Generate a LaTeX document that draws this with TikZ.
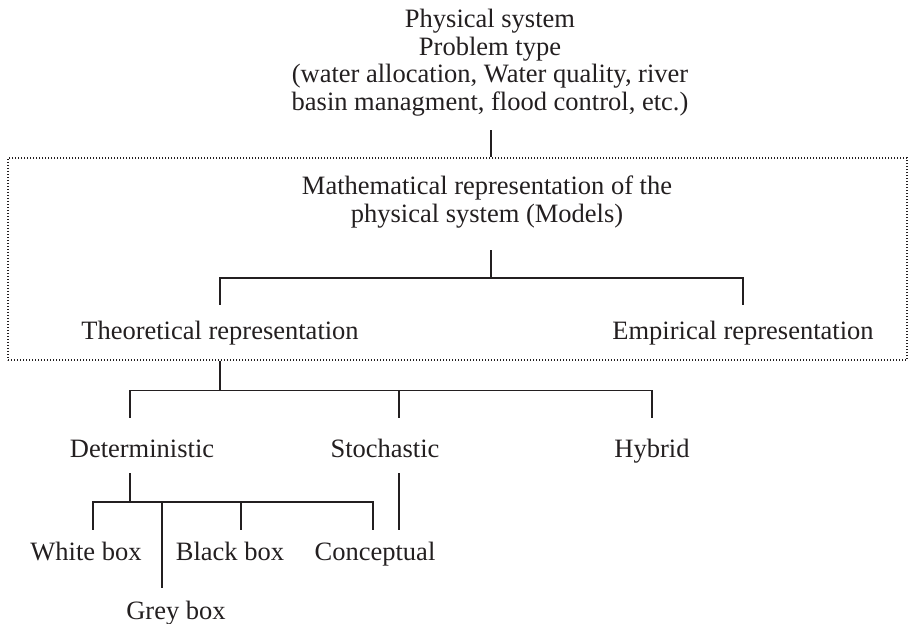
\documentclass[tikz,border=0pt]{standalone}
\usepackage{fontspec}
\setmainfont{Liberation Serif}
\usetikzlibrary{positioning}
\definecolor{ink}{HTML}{231F20}

\begin{document}
\begin{tikzpicture}[
    x=1pt,y=-1pt,
    font=\fontsize{26.5}{27.5}\selectfont,
    color=ink,
    lbl/.style={inner sep=0pt,text height=18pt,text depth=6pt},
    stack/.style={inner sep=0pt,align=center},
    link/.style={line width=1.6pt},
    frame/.style={draw,line width=1.3pt,dash pattern=on 1.3pt off 1.7pt}
]
    \useasboundingbox (0,0) rectangle (908,624);

    % problem statement and the model frame
    \node[stack,anchor=north] (phys) at (490,9) {Physical system\\Problem type\\(water allocation, Water quality, river\\basin managment, flood control, etc.)};
    \node[frame,minimum width=899pt,minimum height=202pt] (modelbox) at (457.5,259) {};
    \node[stack,anchor=north] (math) at (487,176) {Mathematical representation of the\\physical system (Models)};
    \node[lbl,anchor=base] (theo) at (220,339) {Theoretical representation};
    \node[lbl,anchor=base] (emp) at (743,339) {Empirical representation};

    % model classes
    \node[lbl,anchor=base] (det) at (142,457) {Deterministic};
    \node[lbl,anchor=base] (stoch) at (385,457) {Stochastic};
    \node[lbl,anchor=base] (hyb) at (652,457) {Hybrid};

    \node[lbl,anchor=base] (white) at (86,560) {White box};
    \node[lbl,anchor=base] (black) at (230,560) {Black box};
    \node[lbl,anchor=base] (concept) at (375,560) {Conceptual};
    \node[lbl,anchor=base] (grey) at (176,619) {Grey box};

    \draw[link] ([xshift=1pt,yshift=-14pt]phys.south) -- ([xshift=1pt]phys.south |- modelbox.north);

    \draw[link] ([xshift=4pt,yshift=-22pt]math.south) -- ++(0,28) coordinate (mbus) -| ([yshift=16pt]theo.north);
    \draw[link] (mbus) -| ([yshift=16pt]emp.north);

    \draw[link] (theo.south |- modelbox.south) -- ++(0,30) coordinate (tbus) -| ([xshift=-12pt,yshift=21pt]det.north);
    \draw[link] (tbus) -| ([xshift=14pt,yshift=21pt]stoch.north);
    \draw[link] (tbus) -| ([yshift=21pt]hyb.north);

    \draw[link] ([xshift=-12pt,yshift=-10pt]det.south) -- ++(0,29) coordinate (dbus) -| ([xshift=7pt,yshift=12pt]white.north);
    \draw[link] (dbus) -| ([xshift=-14pt,yshift=13pt]grey.north);
    \draw[link] (dbus) -| ([xshift=11pt,yshift=12pt]black.north);
    \draw[link] (dbus) -| ([xshift=-2pt,yshift=12pt]concept.north);

    \draw[link] ([xshift=14pt,yshift=-10pt]stoch.south) -- ++(0,57);
\end{tikzpicture}
\end{document}
